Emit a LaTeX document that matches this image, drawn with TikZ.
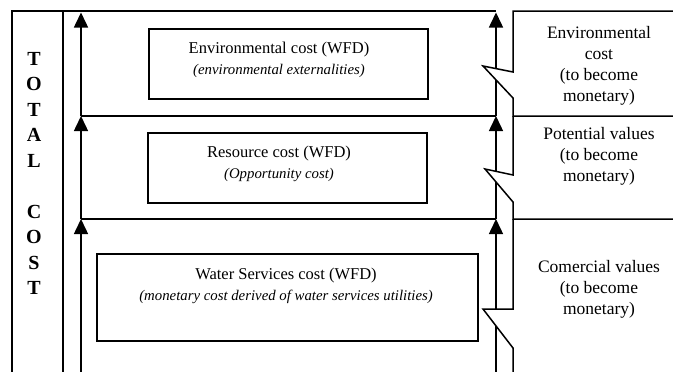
\documentclass[tikz,border=0pt]{standalone}
\usepackage{fontspec}
\setmainfont{Liberation Serif}
\usetikzlibrary{arrows.meta}
\begin{document}
\begin{tikzpicture}[x=1pt,y=-1pt,
  rule/.style={line width=1.5pt},
  flow/.style={line width=1.5pt,-{Triangle[length=15pt,width=14pt]}},
  costbox/.style={draw,line width=1.8pt,inner sep=0pt,outer sep=0pt},
  boxtext/.style={align=center,inner sep=0pt,font=\fontsize{16.5}{21}\selectfont},
  sidetext/.style={align=center,inner sep=0pt,font=\fontsize{17.5}{21}\selectfont},
  totaltext/.style={align=center,inner sep=0pt,font=\fontsize{20}{25.45}\selectfont\bfseries},
]
\useasboundingbox (0,0) rectangle (673,372);

% arrow end points on the left and right rails
\coordinate (la0) at (81,372);
\coordinate (la1) at (81,219);
\coordinate (la2) at (81,116);
\coordinate (la3) at (81,12.5);
\coordinate (ra0) at (496,372);
\coordinate (ra1) at (496,219);
\coordinate (ra2) at (496,116);
\coordinate (ra3) at (496,12.5);

% total cost column and top rule
\draw[rule] (12,372) -- (12,11) -- (496,11);
\draw[rule] (63,11) -- (63,372);
\node[totaltext] (total) at (34,173.5) {T\\O\\T\\A\\L\\[25.45pt]C\\O\\S\\T};

% level separators
\draw[rule] (la2) -- (ra2);
\draw[rule] (la1) -- (ra1);

% upward arrows
\draw[flow] (la0) -- (la1);
\draw[flow] (la1) -- (la2);
\draw[flow] (la2) -- (la3);
\draw[flow] (ra0) -- (ra1);
\draw[flow] (ra1) -- (ra2);
\draw[flow] (ra2) -- (ra3);

% cost boxes
\node[costbox,minimum width=279pt,minimum height=70pt] (env) at (288.5,64) {};
\node[costbox,minimum width=279pt,minimum height=70pt] (res) at (287.5,168) {};
\node[costbox,minimum width=381pt,minimum height=87pt] (wat) at (287.5,297.5) {};

\node[boxtext] (envt) at (279,60) {Environmental cost (WFD)\\{\fontsize{14.8}{21}\selectfont\itshape (environmental externalities)}};
\node[boxtext] (rest) at (279,163.5) {Resource cost (WFD)\\{\fontsize{14.8}{21}\selectfont\itshape (Opportunity cost)}};
\node[boxtext] (watt) at (286,285.5) {Water Services cost (WFD)\\{\fontsize{14.8}{21}\selectfont\itshape (monetary cost derived of water services utilities)}};

% value column: white bands that hide the rail inside each break mark
\fill[white] (513,11) -- (513,72) -- (483,66) -- (513,98) -- (513,116) -- (673,116) -- (673,11) -- cycle;
\fill[white] (513,116) -- (513,175) -- (485,169) -- (513,202) -- (513,219) -- (673,219) -- (673,116) -- cycle;
\fill[white] (513,219) -- (513,309) -- (483,309) -- (513,348) -- (513,372) -- (673,372) -- (673,219) -- cycle;
% value column outlines with break marks
\draw[rule] (673,11) -- (513,11) -- (513,72) -- (483,66) -- (513,98) -- (513,116) -- (673,116);
\draw[rule] (513,116) -- (513,175) -- (485,169) -- (513,202) -- (513,219) -- (673,219);
\draw[rule] (513,219) -- (513,309) -- (483,309) -- (513,348) -- (513,372);

\node[sidetext] (envv) at (599,66) {Environmental\\cost\\(to become\\monetary)};
\node[sidetext] (potv) at (599,156) {Potential values\\(to become\\monetary)};
\node[sidetext] (comv) at (599,289) {Comercial values\\(to become\\monetary)};
\end{tikzpicture}
\end{document}
